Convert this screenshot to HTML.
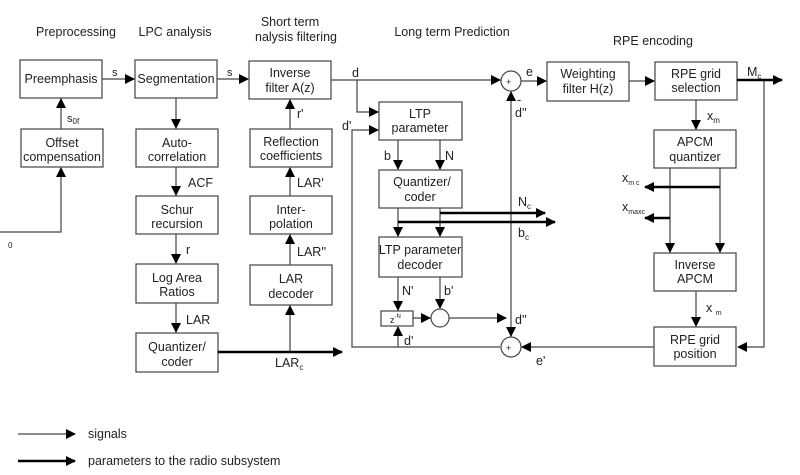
<!DOCTYPE html>
<html><head><meta charset="utf-8"><style>body{margin:0;background:#fff}svg{display:block}text{font-family:"Liberation Sans",sans-serif;font-size:12.5px;fill:#222}</style></head><body>
<svg width="800" height="475" viewBox="0 0 800 475">
<defs><marker id="a" markerWidth="10" markerHeight="10" refX="9" refY="5" orient="auto" markerUnits="userSpaceOnUse"><path d="M0,0L10,5L0,10z" fill="#000"/></marker></defs>
<g fill="none" stroke="#444" stroke-width="1.2">
<rect x="20" y="60" width="82" height="38"/><rect x="21" y="129" width="82" height="38"/>
<rect x="135" y="60" width="82" height="38"/><rect x="136" y="129" width="82" height="38"/>
<rect x="136" y="196" width="82" height="38"/><rect x="136" y="264" width="82" height="39"/>
<rect x="136" y="333" width="82" height="39"/>
<rect x="249" y="61" width="82" height="38"/><rect x="250" y="129" width="82" height="38"/>
<rect x="250" y="196" width="82" height="38"/><rect x="250" y="265" width="82" height="40"/>
<rect x="379" y="102" width="83" height="38"/><rect x="379" y="170" width="83" height="38"/>
<rect x="379" y="237" width="83" height="40"/><rect x="381" y="311" width="32" height="15"/>
<circle cx="440" cy="318" r="9"/><circle cx="511" cy="81" r="10"/><circle cx="511" cy="347" r="10"/>
<rect x="547" y="62" width="82" height="39"/><rect x="655" y="62" width="82" height="38"/>
<rect x="654" y="130" width="82" height="38"/><rect x="654" y="253" width="82" height="38"/>
<rect x="654" y="327" width="82" height="39"/>
</g>
<g fill="none" stroke="#444" stroke-width="1.2" marker-end="url(#a)">
<path d="M102 79H134"/><path d="M217 79H248"/><path d="M61 129V99"/><path d="M0 232H61V168"/>
<path d="M176 98V128"/><path d="M176 167V195"/><path d="M176 234V263"/><path d="M176 303V332"/>
<path d="M290 352V306"/><path d="M290 265V235"/><path d="M290 196V168"/><path d="M290 129V100"/>
<path d="M331 80H500"/><path d="M357 80V112H378"/><path d="M500 347H352V130H378"/>
<path d="M398 140V169"/><path d="M440 140V169"/><path d="M398 208V236"/><path d="M440 208V236"/>
<path d="M398 277V310"/><path d="M440 277V308"/><path d="M413 318H430"/><path d="M449 318H506"/>
<path d="M398 347V327"/><path d="M511 318V92"/><path d="M511 318V336"/>
<path d="M521 81H546"/><path d="M629 81H654"/><path d="M696 100V129"/>
<path d="M670 168V252"/><path d="M720 168V252"/><path d="M696 291V326"/>
<path d="M764 80V347H738"/><path d="M654 347H522"/>
<path d="M18 434H75"/>
</g>
<g fill="none" stroke="#000" stroke-width="2.5" marker-end="url(#a)">
<path d="M218 352H342"/><path d="M440 213H545"/><path d="M398 222H555"/>
<path d="M737 80H782"/><path d="M720 187H645"/><path d="M670 218H645"/><path d="M18 461H75"/>
</g>
<g text-anchor="middle">
<text x="76" y="36">Preprocessing</text><text x="175" y="36">LPC analysis</text>
<text x="290" y="26">Short term</text><text x="296" y="41">nalysis filtering</text>
<text x="452" y="36">Long term Prediction</text><text x="653" y="45">RPE encoding</text>
<text x="61" y="83">Preemphasis</text><text x="62" y="147">Offset</text><text x="62" y="161">compensation</text>
<text x="176" y="83">Segmentation</text><text x="177" y="147">Auto-</text><text x="177" y="161">correlation</text>
<text x="177" y="214">Schur</text><text x="177" y="228">recursion</text>
<text x="177" y="282">Log Area</text><text x="177" y="296">Ratios</text>
<text x="177" y="351">Quantizer/</text><text x="177" y="366">coder</text>
<text x="290" y="77">Inverse</text><text x="290" y="92">filter A(z)</text>
<text x="291" y="146">Reflection</text><text x="291" y="160">coefficients</text>
<text x="291" y="214">Inter-</text><text x="291" y="228">polation</text>
<text x="291" y="283">LAR</text><text x="291" y="298">decoder</text>
<text x="420" y="118">LTP</text><text x="420" y="132">parameter</text>
<text x="422" y="186">Quantizer/</text><text x="420" y="201">coder</text>
<text x="420" y="254">LTP parameter</text><text x="420" y="269">decoder</text>
<text x="588" y="78">Weighting</text><text x="588" y="93">filter H(z)</text>
<text x="696" y="78">RPE grid</text><text x="696" y="92">selection</text>
<text x="695" y="146">APCM</text><text x="695" y="161">quantizer</text>
<text x="695" y="269">Inverse</text><text x="695" y="283">APCM</text>
<text x="695" y="344">RPE grid</text><text x="695" y="358">position</text>
</g>
<g style="font-size:11px">
<text x="112" y="76" style="font-size:11px">s</text><text x="227" y="76" style="font-size:11px">s</text><text x="67" y="122" style="font-size:11px">s<tspan font-size="8" dy="2">0f</tspan></text>
<text x="8" y="248" style="font-size:8px">0</text>
<text x="188" y="187">ACF</text><text x="186" y="254">r</text><text x="186" y="324">LAR</text>
<text x="297" y="118">r'</text><text x="297" y="187">LAR'</text><text x="297" y="256">LAR''</text>
<text x="275" y="367">LAR<tspan font-size="8" dy="3">c</tspan></text>
<text x="352" y="77">d</text><text x="342" y="130">d'</text><text x="384" y="160">b</text><text x="445" y="160">N</text>
<text x="518" y="206">N<tspan font-size="8" dy="3">c</tspan></text><text x="518" y="237">b<tspan font-size="8" dy="3">c</tspan></text>
<text x="402" y="295">N'</text><text x="444" y="295">b'</text><text x="390" y="323" style="font-size:9px">z<tspan font-size="6" dy="-5">-N</tspan></text>
<text x="515" y="324">d''</text><text x="404" y="345">d'</text><text x="536" y="365">e'</text>
<text x="517" y="104">-</text><text x="515" y="117">d''</text><text x="526" y="76">e</text>
<text x="747" y="76">M<tspan font-size="8" dy="3">c</tspan></text>
<text x="707" y="120">x<tspan font-size="8" dy="3">m</tspan></text>
<text x="622" y="182">x<tspan font-size="7" dy="3">m c</tspan></text>
<text x="622" y="211">x<tspan font-size="7" dy="3">maxc</tspan></text>
<text x="706" y="312">x <tspan font-size="7" dy="3">m</tspan></text>
<text x="506" y="85" style="font-size:9px">+</text><text x="506" y="351" style="font-size:9px">+</text>
<text x="88" y="438">signals</text><text x="88" y="465">parameters to the radio subsystem</text>
</g>
</svg></body></html>
